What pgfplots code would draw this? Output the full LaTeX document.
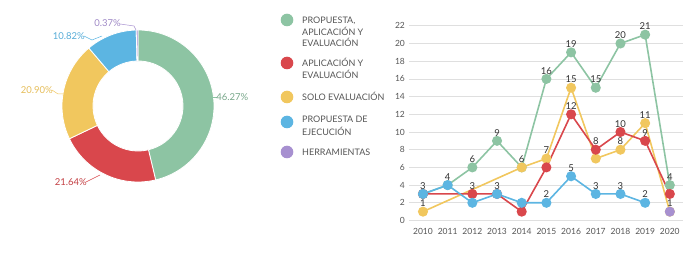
\documentclass[border=0pt]{standalone}
\usepackage{pgfplots}
\pgfplotsset{compat=1.18}
\usepackage{pgfplotstable}
\usepackage{fontspec}
\setmainfont{Lato}
\definecolor{cG}{HTML}{8DC4A3}
\definecolor{cR}{HTML}{D9474C}
\definecolor{cY}{HTML}{F1C75E}
\definecolor{cB}{HTML}{5CB5E2}
\definecolor{cP}{HTML}{A790D0}
\definecolor{txt}{HTML}{555555}
\definecolor{lbl}{HTML}{333333}

\pgfplotstableread{
x y lab
2010 3 {}
2011 4 {}
2012 6 6
2013 9 9
2014 6 6
2015 16 16
2016 19 19
2017 15 15
2018 20 20
2019 21 21
2020 4 4
}\tG
\pgfplotstableread{
x y lab
2010 3 {}
2012 3 3
2013 3 {}
2014 1 1
2015 6 {}
2016 12 12
2017 8 8
2018 10 10
2019 9 9
2020 3 {}
}\tR
\pgfplotstableread{
x y lab
2010 1 1
2014 6 {}
2015 7 7
2016 15 15
2017 7 {}
2018 8 8
2019 11 11
2020 1 {}
}\tY
\pgfplotstableread{
x y lab
2010 3 3
2011 4 4
2012 2 {}
2013 3 3
2014 2 {}
2015 2 2
2016 5 5
2017 3 3
2018 3 3
2019 2 2
}\tB
\pgfplotstableread{
x y lab
2020 1 1
}\tP

\begin{document}
\begin{tikzpicture}[x=1pt,y=1pt]
\path[use as bounding box] (0pt,0pt) rectangle (698pt,254pt);

% ---------- donut ----------
\begin{scope}[shift={(138pt,148pt)}]
\def\a{90}
\foreach \p/\c in {46.27/cG,21.64/cR,20.90/cY,10.82/cB,0.37/cP}{
  \pgfmathsetmacro\b{\a-3.6*\p}
  \fill[\c,draw=white,line width=0.8pt] (\a:76pt) arc[start angle=\a,end angle=\b,radius=76pt]
     -- (\b:45pt) arc[start angle=\b,end angle=\a,radius=45pt] -- cycle;
  \xdef\a{\b}
}
\end{scope}
% pie labels
\begin{scope}[font=\fontsize{9.5}{11}\selectfont, line width=0.5pt]
\draw[cG] (213,157) -- (217,157);
\node[anchor=west,text=cG!85!black,inner sep=0] at (216,157) {46.27\%};
\draw[cR] (86,72) -- (92,75) -- (100,79);
\node[anchor=east,text=cR!90!black,inner sep=0] at (87,72) {21.64\%};
\draw[cY] (52,164) -- (58,160) -- (63,160);
\node[anchor=east,text=cY!95!black,inner sep=0] at (53,164) {20.90\%};
\draw[cB] (84,218) -- (92,214) -- (102,218);
\node[anchor=east,text=cB!95!black,inner sep=0] at (85,218) {10.82\%};
\draw[cP] (120,230) -- (134,228) -- (136,224);
\node[anchor=east,text=cP!95!black,inner sep=0] at (121,231) {0.37\%};
\end{scope}

% ---------- legend ----------
\begin{scope}[font=\fontsize{9}{11}\selectfont, every node/.style={anchor=base west,inner sep=0,text=txt}]
\fill[cG] (287,234) circle (6.3pt);
\node at (302,230.8) {PROPUESTA,};
\node at (302,218.8) {APLICACIÓN Y};
\node at (302,207.8) {EVALUACIÓN};
\fill[cR] (287,191) circle (6.3pt);
\node at (302,187.8) {APLICACIÓN Y};
\node at (302,175.8) {EVALUACIÓN};
\fill[cY] (287,157) circle (6.3pt);
\node at (302,153.8) {SOLO EVALUACIÓN};
\fill[cB] (287,132) circle (6.3pt);
\node at (302,131.8) {PROPUESTA DE};
\node at (302,118.8) {EJECUCIÓN};
\fill[cP] (287,102) circle (6.3pt);
\node at (302,98.8) {HERRAMIENTAS};
\end{scope}

% ---------- line chart ----------
\begin{axis}[
  at={(409.4pt,33.5pt)}, anchor=south west,
  scale only axis, width=274pt, height=194.7pt,
  xmin=2009.45, xmax=2020.55, ymin=0, ymax=22,
  axis line style={draw=none},
  ytick={0,2,...,22}, xtick={2010,...,2020},
  major tick length=0pt,
  ymajorgrids, grid style={gray!25, line width=0.6pt},
  xticklabel style={/pgf/number format/1000 sep={}, font=\fontsize{8.5}{10}\selectfont, text=txt, yshift=-4pt},
  yticklabel style={font=\fontsize{8.5}{10}\selectfont, text=txt, xshift=-1pt},
  /pgf/number format/assume math mode=true,
  clip=false,
  every axis plot/.append style={line width=1.6pt, mark=*, mark size=4.2pt, mark options={solid}},
  nodes near coords, point meta=explicit symbolic,
  every node near coord/.append style={font=\fontsize{9.5}{10}\selectfont, text=lbl, inner sep=1pt, yshift=3pt},
]
\addplot[color=cG] table[x=x,y=y,meta=lab] {\tG};
\addplot[color=cY] table[x=x,y=y,meta=lab] {\tY};
\addplot[color=cR] table[x=x,y=y,meta=lab] {\tR};
\addplot[color=cB] table[x=x,y=y,meta=lab] {\tB};
\addplot[color=cP] table[x=x,y=y,meta=lab] {\tP};
\end{axis}
\end{tikzpicture}
\end{document}
